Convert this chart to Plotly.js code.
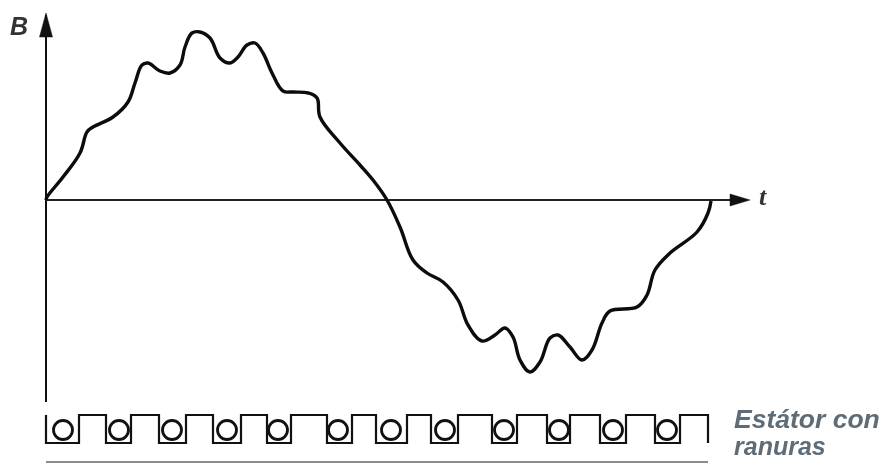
<!DOCTYPE html>
<html>
<head>
<meta charset="utf-8">
<script src="https://cdn.plot.ly/plotly-3.0.0.min.js"></script>
<style>html,body{margin:0;padding:0;background:#fff}#c{width:887px;height:463px;filter:blur(0.65px)}</style>
</head>
<body>
<div id="c"></div>
<script>
// Wave: t = horizontal distance from the origin, B = height above the t axis
var waveT = [0,1,17,34,41,47,67,82,89,96,102,114,124,134,139,146,154,164,174,184,192,201,209,217,226,237,247,262,271,274,294,314,327,341,354,367,381,397,412,422,436,449,459,467,474,484,494,504,512,524,536,546,556,564,591,601,609,624,651,662,665];
var waveB = [0,3,23,47,68,73,83,98,117,135,137,129,127,135,153,167,168,162,142,137,143,155,157,147,127,109,108,107,102,83,57,35,20,0,-27,-60,-73,-82,-100,-125,-141,-135,-128,-137,-160,-172,-162,-138,-135,-147,-160,-150,-123,-111,-107,-95,-70,-53,-32,-13,-1];

// Stator slots: left and right edge of each slot, and the conductor centres
var slotLeft  = [0,60,113,167,221,281,330,385,446,501,554,609];
var slotRight = [33,85,140,195,245,306,361,412,471,524,580,634];
var conductorT = [17,73,126,181,232,292,345,399,458,513,567,621];
var statorEnd = 662;
var statorTop = -215, statorBottom = -243, conductorLevel = -230, baseLevel = -262;

// Axes and arrowheads
var axisTopB = 185, axisBottomB = -202, axisEndT = 690;
var arrowUpT = [-6.5,0,6.5,-6.5], arrowUpB = [163,187,163,163];
var arrowRightT = [684,704,684,684], arrowRightB = [6,0,-6,6];

var statorT = [0], statorB = [statorTop];
for (var i = 0; i < slotLeft.length; i++) {
  if (i > 0) { statorT.push(slotLeft[i]); statorB.push(statorTop); }
  statorT.push(slotLeft[i], slotRight[i], slotRight[i]);
  statorB.push(statorBottom, statorBottom, statorTop);
  var next = i + 1 < slotLeft.length ? slotLeft[i + 1] : statorEnd;
  statorT.push(next); statorB.push(statorTop);
}
statorT.push(statorEnd); statorB.push(statorBottom);

var ink = '#111';
var traces = [
  {x:[0,0], y:[axisBottomB,axisTopB], mode:'lines', line:{color:ink,width:2}},
  {x:[0,axisEndT], y:[0,0], mode:'lines', line:{color:'#222',width:2}},
  {x:arrowUpT, y:arrowUpB, mode:'lines', fill:'toself', fillcolor:ink, line:{color:ink,width:0.5}},
  {x:arrowRightT, y:arrowRightB, mode:'lines', fill:'toself', fillcolor:ink, line:{color:ink,width:0.5}},
  {x:waveT, y:waveB, mode:'lines', line:{color:'#0c0c0c',width:3.4,shape:'spline',smoothing:1.1}},
  {x:statorT, y:statorB, mode:'lines', line:{color:ink,width:2.2}},
  {x:conductorT, y:conductorT.map(function(){return conductorLevel;}), mode:'markers',
   marker:{symbol:'circle-open',size:19,color:ink,line:{color:ink,width:2.8}}},
  {x:[0,statorEnd], y:[baseLevel,baseLevel], mode:'lines', line:{color:'#666',width:1.5}}
];
var layout = {
  width:887, height:463, margin:{l:0,r:0,t:0,b:0}, showlegend:false,
  paper_bgcolor:'#fff', plot_bgcolor:'#fff',
  xaxis:{range:[-46,841],visible:false,fixedrange:true},
  yaxis:{range:[-263,200],visible:false,fixedrange:true},
  annotations:[
    {x:-27,y:174,text:'<b><i>B</i></b>',showarrow:false,font:{family:'Liberation Sans',size:25,color:'#333'}},
    {x:717,y:4,text:'<b><i>t</i></b>',showarrow:false,font:{family:'Liberation Serif',size:26,color:'#333'}},
    {x:686,y:-219,xanchor:'left',text:'<b><i>Estátor con</i></b>',showarrow:false,font:{family:'Liberation Sans',size:26.5,color:'#5e6c78'}},
    {x:686,y:-246,xanchor:'left',text:'<b><i>ranuras</i></b>',showarrow:false,font:{family:'Liberation Sans',size:25,color:'#5e6c78'}}
  ]
};
Plotly.newPlot('c', traces, layout, {displayModeBar:false,staticPlot:true});
</script>
</body>
</html>
